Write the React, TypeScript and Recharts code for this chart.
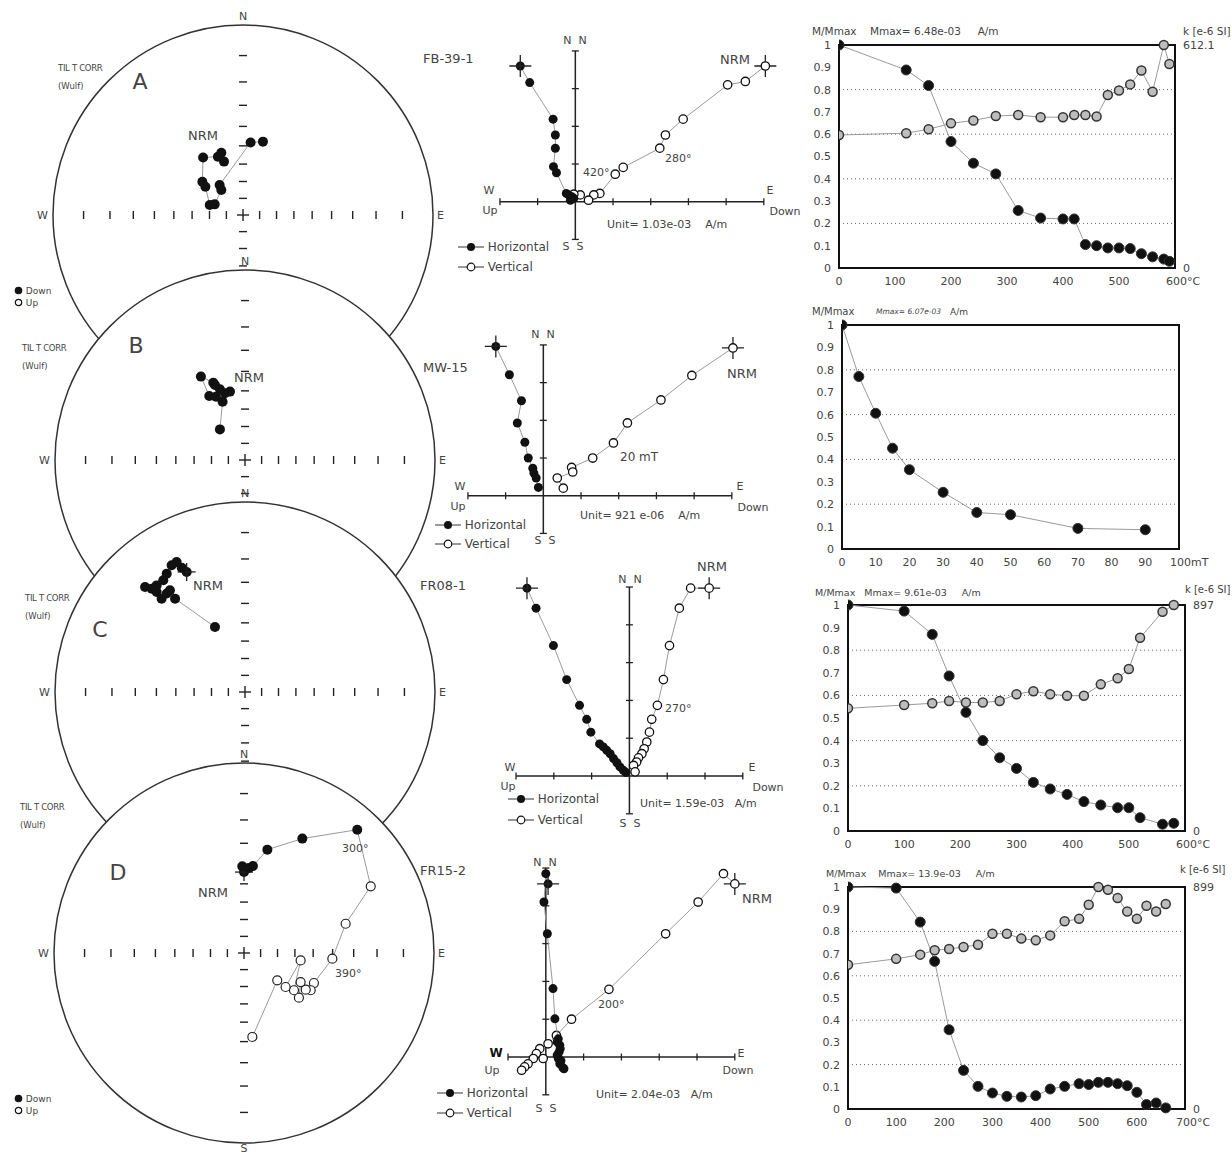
import React from 'react'
import {
  ScatterChart, Scatter, LineChart, Line, XAxis, YAxis,
  ReferenceLine, ReferenceArea, CartesianGrid,
} from 'recharts'

const FONT = '"DejaVu Sans", Arial, sans-serif'
const INK = '#222'
const TXT = '#444'
const LINK = '#9a9a9a'

// ---- stereonets (Wulff): projected position on the unit circle, x = E, y = N, d: 1 down / 0 up
const NET_A = [
  [-0.114, 0.328, 1], [-0.1, 0.281, 1], [-0.132, 0.307, 1], [-0.21, 0.303, 1],
  [-0.214, 0.175, 1], [-0.198, 0.149, 1], [-0.175, 0.053, 1], [-0.149, 0.056, 1],
  [-0.114, 0.132, 1], [-0.123, 0.158, 1], [0.04, 0.382, 1], [0.105, 0.386, 1],
]
const NET_B = [
  [-0.079, 0.36, 1], [-0.105, 0.351, 1], [-0.132, 0.372, 1], [-0.158, 0.395, 1],
  [-0.167, 0.407, 1], [-0.232, 0.439, 1], [-0.188, 0.337, 1], [-0.153, 0.333, 1],
  [-0.118, 0.307, 1], [-0.132, 0.161, 1],
]
const NET_C = [
  [-0.307, 0.632, 1], [-0.333, 0.654, 1], [-0.36, 0.684, 1], [-0.386, 0.667, 1],
  [-0.412, 0.623, 1], [-0.43, 0.588, 1], [-0.465, 0.561, 1], [-0.526, 0.553, 1],
  [-0.491, 0.544, 1], [-0.465, 0.526, 1], [-0.439, 0.491, 1], [-0.412, 0.518, 1],
  [-0.395, 0.535, 1], [-0.368, 0.491, 1], [-0.158, 0.342, 1],
]
const NET_D = [
  [0, 0.426, 1], [-0.009, 0.456, 1], [0.026, 0.447, 1], [0.047, 0.458, 1],
  [0.123, 0.544, 1], [0.307, 0.602, 1], [0.596, 0.649, 1], [0.667, 0.351, 0],
  [0.535, 0.154, 0], [0.465, -0.03, 0], [0.368, -0.158, 0], [0.351, -0.196, 0],
  [0.325, -0.193, 0], [0.298, -0.153, 0], [0.289, -0.235, 0], [0.263, -0.196, 0],
  [0.298, -0.039, 0], [0.219, -0.179, 0], [0.175, -0.144, 0], [0.044, -0.442, 0],
]
const WULFF_INC = [10, 20, 30, 40, 50, 60, 70, 80]

// ---- Zijderveld diagrams, in units of the stated Unit (x = E / Down, y = N)
const Z_FB_HOR = [[-1.46, 3.6], [-1.21, 3.16], [-0.59, 2.19], [-0.53, 1.77], [-0.53, 1.42], [-0.58, 0.93], [-0.5, 0.77], [-0.24, 0.22], [-0.18, 0.18], [-0.09, 0.13], [-0.04, 0.09], [-0.13, 0.04]]
const Z_FB_VER = [[5.04, 3.6], [4.51, 3.19], [4.04, 3.1], [2.86, 2.19], [2.39, 1.77], [2.24, 1.42], [1.27, 0.91], [1.06, 0.73], [0.65, 0.22], [0.49, 0.18], [0.35, 0.04], [0.13, 0.18], [-0.04, 0.2]]
const Z_MW_HOR = [[-1.26, 3.96], [-0.9, 3.21], [-0.58, 2.52], [-0.69, 1.93], [-0.49, 1.42], [-0.4, 1.0], [-0.28, 0.73], [-0.25, 0.6], [-0.19, 0.47], [-0.13, 0.22]]
const Z_MW_VER = [[5.03, 3.92], [3.94, 3.19], [3.12, 2.54], [2.23, 1.93], [1.86, 1.4], [1.31, 1.0], [0.75, 0.75], [0.78, 0.63], [0.37, 0.47], [0.53, 0.2]]
const Z_F8_HOR = [[-2.71, 4.97], [-2.47, 4.44], [-2.01, 3.45], [-1.66, 2.55], [-1.32, 1.87], [-1.13, 1.5], [-1.02, 1.16], [-0.79, 0.85], [-0.69, 0.77], [-0.6, 0.68], [-0.51, 0.59], [-0.42, 0.46], [-0.33, 0.35], [-0.25, 0.24], [-0.16, 0.15], [-0.09, 0.09]]
const Z_F8_VER = [[2.11, 4.97], [1.62, 4.97], [1.32, 4.44], [1.06, 3.45], [0.9, 2.55], [0.74, 1.87], [0.59, 1.5], [0.53, 1.16], [0.46, 0.9], [0.39, 0.72], [0.33, 0.59], [0.24, 0.48], [0.19, 0.37], [0.11, 0.28], [0.15, 0.11]]
const Z_F15_HOR = [[0.06, 4.58], [0, 4.85], [-0.05, 4.1], [0.04, 3.26], [0.19, 1.81], [0.24, 1.01], [0.33, 0.48], [0.3, 0.4], [0.37, 0.31], [0.38, 0.22], [0.35, 0.13], [0.3, 0.05], [0.33, -0.04], [0.4, -0.1], [0.37, -0.18], [0.45, -0.28], [0.48, -0.31]]
const Z_F15_VER = [[5.0, 4.58], [4.7, 4.85], [4.03, 4.1], [3.17, 3.26], [1.67, 1.79], [0.68, 1.0], [0.28, 0.57], [0.06, 0.35], [-0.16, 0.22], [-0.25, 0.09], [-0.07, -0.04], [-0.33, -0.04], [-0.47, -0.18], [-0.56, -0.26], [-0.64, -0.35]]

// ---- demagnetisation curves
const TEMP_FB = [0, 120, 160, 200, 240, 280, 320, 360, 400, 420, 440, 460, 480, 500, 520, 540, 560, 580, 590]
const M_FB = [1.0, 0.888, 0.818, 0.567, 0.47, 0.422, 0.258, 0.224, 0.22, 0.22, 0.105, 0.1, 0.09, 0.09, 0.087, 0.064, 0.05, 0.04, 0.03]
const K_FB = [365, 370, 381, 397, 405, 417, 420, 414, 414, 420, 420, 416, 475, 487, 504, 542, 484, 612.1, 560]

const AF_MW = [0, 5, 10, 15, 20, 30, 40, 50, 70, 90]
const M_MW = [1.0, 0.77, 0.606, 0.45, 0.354, 0.253, 0.163, 0.153, 0.092, 0.086]

const TEMP_F8 = [0, 100, 150, 180, 210, 240, 270, 300, 330, 360, 390, 420, 450, 480, 500, 520, 560, 580]
const M_F8 = [1.0, 0.973, 0.87, 0.686, 0.525, 0.4, 0.324, 0.277, 0.215, 0.186, 0.162, 0.13, 0.115, 0.103, 0.103, 0.059, 0.03, 0.034]
const K_F8 = [487, 500, 507, 516, 510, 510, 516, 543, 555, 543, 537, 537, 582, 606, 643, 767, 870, 897]

const TEMP_F15 = [0, 100, 150, 180, 210, 240, 270, 300, 330, 360, 390, 420, 450, 480, 500, 520, 540, 560, 580, 600, 620, 640, 660]
const M_F15 = [1.0, 0.995, 0.842, 0.665, 0.357, 0.174, 0.102, 0.072, 0.057, 0.054, 0.06, 0.09, 0.102, 0.114, 0.11, 0.12, 0.12, 0.114, 0.105, 0.075, 0.02, 0.027, 0.005]
const K_F15 = [584, 608, 625, 643, 648, 656, 665, 710, 710, 690, 683, 703, 760, 770, 827, 899, 888, 854, 800, 770, 823, 800, 830]

const M_TICKS = [0, 0.1, 0.2, 0.3, 0.4, 0.5, 0.6, 0.7, 0.8, 0.9, 1]
const T600 = [0, 100, 200, 300, 400, 500, 600]
const T700 = [0, 100, 200, 300, 400, 500, 600, 700]
const AF_TICKS = [0, 10, 20, 30, 40, 50, 60, 70, 80, 90, 100]

const rows3 = (xs: number[], m: number[], k?: number[]) =>
  xs.map((t, i) => ({ t, m: m[i], k: k ? k[i] : undefined }))

function Txt({ x, y, s = 11, a = 'start', children, style }: any) {
  const tx = a === 'middle' ? '-50%' : a === 'end' ? '-100%' : '0'
  return (
    <div style={{
      position: 'absolute', left: x, top: y, transform: `translate(${tx},-50%)`,
      fontSize: s, whiteSpace: 'pre', lineHeight: 1, color: TXT, ...style,
    }}>{children}</div>
  )
}

const NO_MARGIN = { top: 0, right: 0, bottom: 0, left: 0 }

function Cross({ cx, cy, len = 10 }: any) {
  return (
    <g stroke={INK} strokeWidth={1.3}>
      <line x1={cx - len} y1={cy} x2={cx + len} y2={cy} />
      <line x1={cx} y1={cy - len} x2={cx} y2={cy + len} />
    </g>
  )
}

function Stereonet({ cx, cy, R, pts, cross }: any) {
  const pad = 1.2
  const size = 2 * pad * R
  const data = pts.map((p: number[], i: number) => ({ x: p[0], y: p[1], d: p[2], first: i === 0 }))
  const net = (p: any) => {
    const ds = WULFF_INC.map((inc) => R * Math.tan(((90 - inc) / 2) * Math.PI / 180))
    return (
      <g>
        <circle cx={p.cx} cy={p.cy} r={R} fill="#fff" stroke="#333" strokeWidth={1.5} />
        <g stroke={INK} strokeWidth={1.4}>
          {ds.map((d, i) => (
            <g key={i}>
              <line x1={p.cx - d} y1={p.cy - 4} x2={p.cx - d} y2={p.cy + 4} />
              <line x1={p.cx + d} y1={p.cy - 4} x2={p.cx + d} y2={p.cy + 4} />
              <line x1={p.cx - 4} y1={p.cy - d} x2={p.cx + 4} y2={p.cy - d} />
              <line x1={p.cx - 4} y1={p.cy + d} x2={p.cx + 4} y2={p.cy + d} />
            </g>
          ))}
          <line x1={p.cx - 6} y1={p.cy} x2={p.cx + 6} y2={p.cy} />
          <line x1={p.cx} y1={p.cy - 6} x2={p.cx} y2={p.cy + 6} />
        </g>
      </g>
    )
  }
  const dot = (p: any) => (
    <g>
      {p.payload.d
        ? <circle cx={p.cx} cy={p.cy} r={5} fill="#111" />
        : <circle cx={p.cx} cy={p.cy} r={4.5} fill="#fff" stroke="#222" strokeWidth={1.2} />}
      {cross && p.payload.first ? <Cross cx={p.cx} cy={p.cy} len={9} /> : null}
    </g>
  )
  return (
    <div style={{ position: 'absolute', left: cx - pad * R, top: cy - pad * R }}>
      <ScatterChart width={size} height={size} margin={NO_MARGIN}>
        <XAxis type="number" dataKey="x" domain={[-pad, pad]} hide allowDataOverflow />
        <YAxis type="number" dataKey="y" domain={[-pad, pad]} hide allowDataOverflow />
        <Scatter data={[{ x: 0, y: 0 }]} shape={net} isAnimationActive={false} />
        <Scatter data={data} shape={dot} line={{ stroke: LINK, strokeWidth: 1 }} isAnimationActive={false} />
      </ScatterChart>
    </div>
  )
}

function Zijder({ ox, oy, u, ax, ay, hor, ver }: any) {
  const pad = 0.9
  const dx = [ax[0] - pad, ax[1] + pad]
  const dy = [ay[0] - pad, ay[1] + pad]
  const w = (dx[1] - dx[0]) * u
  const h = (dy[1] - dy[0]) * u
  const t = 3.5 / u
  const xt: number[] = []
  for (let i = ax[0]; i <= ax[1]; i++) if (i !== 0) xt.push(i)
  const yt: number[] = []
  for (let i = ay[0]; i <= ay[1]; i++) if (i !== 0) yt.push(i)
  const hData = hor.map((p: number[], i: number) => ({ x: p[0], y: p[1], first: i === 0 }))
  const vData = ver.map((p: number[], i: number) => ({ x: p[0], y: p[1], first: i === 0 }))
  const filled = (p: any) => (
    <g>
      <circle cx={p.cx} cy={p.cy} r={4.5} fill="#111" />
      {p.payload.first ? <Cross cx={p.cx} cy={p.cy} len={11} /> : null}
    </g>
  )
  const open = (p: any) => (
    <g>
      {p.payload.first ? <Cross cx={p.cx} cy={p.cy} len={11} /> : null}
      <circle cx={p.cx} cy={p.cy} r={4.2} fill="#fff" stroke="#111" strokeWidth={1.3} />
    </g>
  )
  return (
    <div style={{ position: 'absolute', left: ox + dx[0] * u, top: oy - dy[1] * u }}>
      <ScatterChart width={w} height={h} margin={NO_MARGIN}>
        <XAxis type="number" dataKey="x" domain={dx} hide allowDataOverflow />
        <YAxis type="number" dataKey="y" domain={dy} hide allowDataOverflow />
        <ReferenceLine segment={[{ x: ax[0], y: 0 }, { x: ax[1], y: 0 }]} stroke={INK} strokeWidth={1.5} />
        <ReferenceLine segment={[{ x: 0, y: ay[0] }, { x: 0, y: ay[1] }]} stroke={INK} strokeWidth={1.5} />
        {xt.map((v) => (
          <ReferenceLine key={'x' + v} segment={[{ x: v, y: -t }, { x: v, y: t }]} stroke={INK} strokeWidth={1.3} />
        ))}
        {yt.map((v) => (
          <ReferenceLine key={'y' + v} segment={[{ x: -t, y: v }, { x: t, y: v }]} stroke={INK} strokeWidth={1.3} />
        ))}
        <Scatter data={vData} shape={open} line={{ stroke: LINK, strokeWidth: 1 }} isAnimationActive={false} />
        <Scatter data={hData} shape={filled} line={{ stroke: LINK, strokeWidth: 1 }} isAnimationActive={false} />
      </ScatterChart>
    </div>
  )
}

function XTick({ x, y, payload, last, unit }: any) {
  const isLast = payload.value === last
  return (
    <text x={isLast ? x - 9 : x} y={y} dy={9} textAnchor={isLast ? 'start' : 'middle'}
      fontSize={11} fill={TXT} fontFamily={FONT}>
      {payload.value}{isLast ? unit : ''}
    </text>
  )
}

function Demag({ left, top, w, h, xMax, xTicks, unit, rows, kMax }: any) {
  const YW = 30
  const KW = 50
  const XH = 22
  const MT = 6
  return (
    <div style={{ position: 'absolute', left: left - YW, top: top - MT }}>
      <LineChart width={YW + w + KW} height={MT + h + XH} data={rows}
        margin={{ top: MT, right: kMax ? 0 : KW, bottom: 0, left: 0 }}>
        <CartesianGrid vertical={false} stroke="#666" strokeDasharray="1 3" />
        <XAxis dataKey="t" type="number" domain={[0, xMax]} ticks={xTicks} height={XH}
          axisLine={false} tickLine={false} allowDataOverflow
          tick={(p: any) => <XTick {...p} last={xMax} unit={unit} />} />
        <YAxis type="number" domain={[0, 1]} ticks={M_TICKS} width={YW} axisLine={false}
          tickLine={false} tick={{ fontSize: 11, fill: TXT }} tickFormatter={(v: number) => String(v)} />
        {kMax ? (
          <YAxis yAxisId="k" orientation="right" type="number" domain={[0, kMax]} ticks={[0, kMax]}
            width={KW} axisLine={false} tickLine={false} tick={{ fontSize: 11, fill: TXT }} />
        ) : null}
        <ReferenceArea x1={0} x2={xMax} y1={0} y2={1} fill="none" stroke="#111" strokeWidth={2} />
        <Line dataKey="m" stroke={LINK} strokeWidth={1} isAnimationActive={false}
          dot={{ r: 5, fill: '#111', stroke: '#333', strokeWidth: 1 }} />
        {kMax ? (
          <Line yAxisId="k" dataKey="k" stroke={LINK} strokeWidth={1} isAnimationActive={false}
            dot={{ r: 4.5, fill: '#bdbdbd', stroke: '#333', strokeWidth: 1.5 }} />
        ) : null}
      </LineChart>
    </div>
  )
}

function DownUp({ x, y }: any) {
  return (
    <div style={{ position: 'absolute', left: x, top: y, fontSize: 9, color: TXT, lineHeight: '12px' }}>
      <div><svg width={9} height={9} style={{ verticalAlign: -1 }}><circle cx={4.5} cy={4.5} r={3.8} fill="#111" /></svg> Down</div>
      <div><svg width={9} height={9} style={{ verticalAlign: -1 }}><circle cx={4.5} cy={4.5} r={3.2} fill="#fff" stroke="#111" strokeWidth={1.2} /></svg> Up</div>
    </div>
  )
}

function ZLegend({ x, y, gap = 20 }: any) {
  const sym = (fill: boolean) => (
    <svg width={26} height={10} style={{ verticalAlign: -1 }}>
      <line x1={0} y1={5} x2={26} y2={5} stroke="#333" strokeWidth={1} />
      {fill
        ? <circle cx={13} cy={5} r={4} fill="#111" />
        : <circle cx={13} cy={5} r={3.8} fill="#fff" stroke="#111" strokeWidth={1.2} />}
    </svg>
  )
  return (
    <div style={{ position: 'absolute', left: x, top: y - 9, fontSize: 12, color: TXT, lineHeight: `${gap}px` }}>
      <div>{sym(true)} Horizontal</div>
      <div>{sym(false)} Vertical</div>
    </div>
  )
}

function NetLabels({ cx, cy, R, letter, lx, ly, tx, ty, south }: any) {
  return (
    <>
      <Txt x={cx} y={cy - R - 9} a="middle" s={11}>N</Txt>
      <Txt x={cx - R - 5} y={cy} a="end" s={11}>W</Txt>
      <Txt x={cx + R + 4} y={cy} s={11}>E</Txt>
      {south ? <Txt x={cx} y={cy + R + 5} a="middle" s={11}>S</Txt> : null}
      <Txt x={tx} y={ty} s={8.5} style={{ letterSpacing: -0.3 }}>TIL T CORR</Txt>
      <Txt x={tx} y={ty + 18} s={8.5}>(Wulf)</Txt>
      <Txt x={lx} y={ly} a="middle" s={22}>{letter}</Txt>
    </>
  )
}

export default function App() {
  const R = 190
  return (
    <div style={{
      position: 'absolute', left: 0, top: 0, width: 1232, height: 1155, background: '#fff',
      overflow: 'hidden', fontFamily: FONT, color: TXT,
    }}>
      <Stereonet cx={243} cy={215} R={R} pts={NET_A} />
      <Stereonet cx={245} cy={460} R={R} pts={NET_B} />
      <Stereonet cx={245} cy={692} R={R} pts={NET_C} cross />
      <Stereonet cx={244} cy={953} R={R} pts={NET_D} cross />

      <NetLabels cx={243} cy={215} R={R} letter="A" lx={140} ly={82} tx={58} ty={68} />
      <NetLabels cx={245} cy={460} R={R} letter="B" lx={136} ly={346} tx={22} ty={348} />
      <NetLabels cx={245} cy={692} R={R} letter="C" lx={100} ly={630} tx={25} ty={598} />
      <NetLabels cx={244} cy={953} R={R} letter="D" lx={118} ly={873} tx={20} ty={807} south />
      <Txt x={203} y={135} a="middle" s={13}>NRM</Txt>
      <Txt x={249} y={377} a="middle" s={13}>NRM</Txt>
      <Txt x={208} y={585} a="middle" s={13}>NRM</Txt>
      <Txt x={213} y={892} a="middle" s={13}>NRM</Txt>
      <Txt x={342} y={848} s={11}>300°</Txt>
      <Txt x={335} y={973} s={11}>390°</Txt>
      <DownUp x={14} y={285} />
      <DownUp x={14} y={1093} />

      <Zijder ox={575} oy={201.7} u={37.7} ax={[-2, 5]} ay={[-1, 4]} hor={Z_FB_HOR} ver={Z_FB_VER} />
      <Zijder ox={543.3} oy={496} u={37.7} ax={[-2, 5]} ay={[-1, 4]} hor={Z_MW_HOR} ver={Z_MW_VER} />
      <Zijder ox={629.3} oy={775.7} u={37.8} ax={[-3, 3]} ay={[-1, 5]} hor={Z_F8_HOR} ver={Z_F8_VER} />
      <Zijder ox={546} oy={1056.7} u={37.8} ax={[-1, 5]} ay={[-1, 5]} hor={Z_F15_HOR} ver={Z_F15_VER} />

      <Txt x={423} y={58} s={13}>FB-39-1</Txt>
      <Txt x={575} y={40} a="middle" s={11}>N  N</Txt>
      <Txt x={573} y={246} a="middle" s={11}>S  S</Txt>
      <Txt x={489} y={190} a="middle" s={11}>W</Txt>
      <Txt x={490} y={210} a="middle" s={11}>Up</Txt>
      <Txt x={770} y={190} a="middle" s={11}>E</Txt>
      <Txt x={785} y={211} a="middle" s={11}>Down</Txt>
      <Txt x={735} y={59} a="middle" s={13}>NRM</Txt>
      <Txt x={665} y={158} s={11}>280°</Txt>
      <Txt x={583} y={172} s={11}>420°</Txt>
      <Txt x={607} y={224} s={11}>Unit= 1.03e-03    A/m</Txt>
      <ZLegend x={458} y={246} />

      <Txt x={423} y={367} s={13}>MW-15</Txt>
      <Txt x={543} y={334} a="middle" s={11}>N  N</Txt>
      <Txt x={545} y={540} a="middle" s={11}>S  S</Txt>
      <Txt x={460} y={486} a="middle" s={11}>W</Txt>
      <Txt x={458} y={506} a="middle" s={11}>Up</Txt>
      <Txt x={740} y={486} a="middle" s={11}>E</Txt>
      <Txt x={753} y={507} a="middle" s={11}>Down</Txt>
      <Txt x={742} y={373} a="middle" s={13}>NRM</Txt>
      <Txt x={620} y={457} s={12}>20 mT</Txt>
      <Txt x={580} y={515} s={11}>Unit= 921 e-06    A/m</Txt>
      <ZLegend x={435} y={525} gap={19} />

      <Txt x={420} y={585} s={13}>FR08-1</Txt>
      <Txt x={630} y={579} a="middle" s={11}>N  N</Txt>
      <Txt x={630} y={823} a="middle" s={11}>S  S</Txt>
      <Txt x={510} y={767} a="middle" s={11}>W</Txt>
      <Txt x={508} y={786} a="middle" s={11}>Up</Txt>
      <Txt x={752} y={767} a="middle" s={11}>E</Txt>
      <Txt x={768} y={787} a="middle" s={11}>Down</Txt>
      <Txt x={712} y={566} a="middle" s={13}>NRM</Txt>
      <Txt x={665} y={708} s={11}>270°</Txt>
      <Txt x={640} y={803} s={11}>Unit= 1.59e-03   A/m</Txt>
      <ZLegend x={508} y={798} gap={21} />

      <Txt x={420} y={870} s={13}>FR15-2</Txt>
      <Txt x={545} y={862} a="middle" s={11}>N  N</Txt>
      <Txt x={546} y={1108} a="middle" s={11}>S  S</Txt>
      <Txt x={496} y={1053} a="middle" s={12} style={{ fontWeight: 'bold', color: '#111' }}>W</Txt>
      <Txt x={492} y={1070} a="middle" s={11}>Up</Txt>
      <Txt x={741} y={1053} a="middle" s={11}>E</Txt>
      <Txt x={738} y={1070} a="middle" s={11}>Down</Txt>
      <Txt x={757} y={898} a="middle" s={13}>NRM</Txt>
      <Txt x={598} y={1004} s={11}>200°</Txt>
      <Txt x={596} y={1094} s={11}>Unit= 2.04e-03   A/m</Txt>
      <ZLegend x={437} y={1092} gap={20} />

      <Demag left={839} top={45} w={336} h={223} xMax={600} xTicks={T600} unit="°C" rows={rows3(TEMP_FB, M_FB, K_FB)} kMax={612.1} />
      <Demag left={842} top={325} w={337} h={224} xMax={100} xTicks={AF_TICKS} unit="mT" rows={rows3(AF_MW, M_MW)} />
      <Demag left={848} top={605} w={337} h={226} xMax={600} xTicks={T600} unit="°C" rows={rows3(TEMP_F8, M_F8, K_F8)} kMax={897} />
      <Demag left={848} top={887} w={337} h={222} xMax={700} xTicks={T700} unit="°C" rows={rows3(TEMP_F15, M_F15, K_F15)} kMax={899} />

      <Txt x={812} y={31} s={10.5}>M/Mmax    Mmax= 6.48e-03     A/m</Txt>
      <Txt x={1183} y={31} s={10.5}>k [e-6 SI]</Txt>
      <Txt x={812} y={312} s={10}>M/Mmax</Txt>
      <Txt x={876} y={312} s={7.5} style={{ fontStyle: 'italic' }}>Mmax= 6.07e-03</Txt>
      <Txt x={950} y={312} s={9}>A/m</Txt>
      <Txt x={815} y={593} s={9.5}>M/Mmax   Mmax= 9.61e-03     A/m</Txt>
      <Txt x={1185} y={590} s={10}>k [e-6 SI]</Txt>
      <Txt x={826} y={874} s={9.5}>M/Mmax    Mmax= 13.9e-03     A/m</Txt>
      <Txt x={1180} y={870} s={10}>k [e-6 SI]</Txt>
    </div>
  )
}
